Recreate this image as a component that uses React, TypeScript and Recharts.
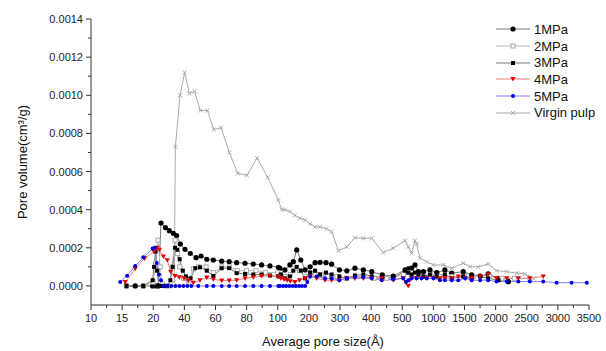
import { Line, LineChart, XAxis, YAxis, Label } from 'recharts'

// x axis of the original plot is piecewise: equally spaced ticks with these labels
const sizeTicks = [10, 15, 20, 40, 60, 80, 100, 200, 300, 400, 500, 1000, 1500, 2000, 2500, 3000, 3500]

const mpa1Size = [15.7, 17.1, 18.4, 19.9, 21.8, 23.3, 25, 27.8, 30.3, 32.9, 35, 37.4, 40.4, 43.8, 47.5, 50.7, 54.4, 58.6, 64, 68.8, 73.6, 79, 84.3, 89.6, 95, 102, 107, 123, 139, 150, 161, 174, 188, 204, 220, 236, 255, 273, 298, 322, 348, 375, 402, 436, 471, 545, 597, 650, 705, 760, 840, 945, 1055, 1185, 1295, 1480, 1615, 1750, 1880, 2045, 2205]
const mpa1Vol = [0, 0, 0, 0, 0, 0, 0.00033, 0.000306, 0.00029, 0.000276, 0.000264, 0.00022, 0.000192, 0.00017, 0.000148, 0.000157, 0.00014, 0.000136, 0.00013, 0.000127, 0.000122, 0.000119, 0.000115, 0.00011, 0.000105, 0.000098, 0.000093, 0.000084, 0.00011, 0.000127, 0.000189, 0.000136, 0.000084, 0.0001, 0.000122, 0.000124, 0.000122, 0.000114, 0.000084, 0.000079, 0.000093, 0.000084, 0.000075, 0.000058, 0.000052, 0.000084, 0.000089, 0.000093, 0.00011, 0.000075, 0.000075, 0.000084, 0.00007, 0.000084, 0.000067, 0.000075, 0.000058, 0.000052, 0.000063, 0.00004, 0.000023]

const mpa2Size = [15.7, 18.4, 20, 21.5, 23, 24.5, 26, 28, 30, 32, 34, 35.5, 37, 39.5, 42.5, 45.7, 49, 54, 58.6, 64, 69, 74, 80, 86, 92, 100, 110, 125, 140, 155, 170, 188, 204, 220, 240, 260, 290, 320, 350, 380, 410, 450, 520, 600, 700, 800, 950, 1100, 1300, 1500, 1700, 1900, 2100, 2300, 2550]
const mpa2Vol = [0, 0, 0.00002, 0.00012, 0.00024, 0.0001, 0.00001, 0, 0, 0.0001, 0.00024, 0.00017, 0.0001, 0.00004, 0.00002, 0.00009, 0.0001, 0.0001, 0.00007, 0.0001, 0.0001, 0.00008, 0.00008, 0.00008, 0.00007, 0.00007, 0.00006, 0.00005, 0.00006, 0.00009, 0.00008, 0.00005, 0.00007, 0.00006, 0.00006, 0.00005, 0.00005, 0.00004, 0.00005, 0.00005, 0.00004, 0.00004, 0.00006, 0.00007, 0.00006, 0.00005, 0.00006, 0.00005, 0.00005, 0.00005, 0.00004, 0.00005, 0.00004, 0.00004, 0.00004]

const mpa3Size = [15.7, 17.1, 18.4, 19.9, 20.5, 21.5, 22.5, 23.5, 25, 26.5, 29, 31, 32.5, 34, 35.5, 37, 39, 41, 44, 47, 50, 54.4, 58.6, 64, 68.8, 73.6, 79, 84.3, 89.6, 95, 102, 110, 123, 139, 150, 161, 174, 188, 204, 220, 236, 255, 273, 298, 322, 348, 375, 402, 436, 471, 545, 597, 650, 705, 760, 840, 945, 1055, 1185, 1295, 1480, 1615, 1750, 1880, 2045, 2205]
const mpa3Vol = [0, 0, 0, 0.00003, 0.0001, 0.00018, 0.00008, 0, 0, 0, 0, 0.00003, 0.0001, 0.0002, 0.00019, 0.00014, 0.00008, 0.00005, 0.00004, 0.000093, 0.000098, 0.00008, 0.000052, 0.000093, 0.000093, 0.000067, 0.000063, 0.00006, 0.00006, 0.000055, 0.00005, 0.00006, 0.00004, 0.00005, 0.00008, 0.0001, 0.00008, 0.00004, 0.00007, 0.00008, 0.00006, 0.00007, 0.00006, 0.00005, 0.00004, 0.000055, 0.00006, 0.00005, 0.000045, 0.00004, 0.00008, 0.00007, 0.00006, 0.00007, 0.00006, 0.00005, 0.00006, 0.00005, 0.00006, 0.00004, 0.00005, 0.00004, 0.00005, 0.00004, 0.00003, 0.00002]

const mpa4Size = [15.5, 17.1, 18.6, 20.5, 22.5, 24, 26.5, 29, 31.2, 34, 36.7, 39.8, 42.5, 45.7, 50, 54.4, 58.6, 64, 68.8, 73.6, 79, 84.3, 89.6, 95, 102, 110, 120, 130, 140, 155, 170, 188, 204, 225, 252, 273, 298, 322, 348, 375, 402, 434, 471, 515, 560, 597, 650, 730, 810, 895, 1000, 1105, 1185, 1295, 1400, 1510, 1615, 1750, 1880, 2015, 2180, 2365, 2550, 2765]
const mpa4Vol = [0.00002, 0.00009, 0.000145, 0.00018, 0.0002, 0.00019, 0.000155, 0.000135, 0.000075, 0.000052, 0.000046, 0.00004, 0.000028, 0.000017, 0.00003, 0.000044, 0.000035, 0.000028, 0.000028, 0.00003, 0.00004, 0.000046, 0.000052, 0.000052, 0.00005, 0.00004, 0.000035, 0.00003, 0.000025, 0.00002, 0.00003, 0.00004, 0.00005, 0.00004, 0.00003, 0.00003, 0.00003, 0.00004, 0.00004, 0.00004, 0.00004, 0.00004, 0.00003, 0.00004, 0.00002, 0, 0.00004, 0.00004, 0.00004, 0.00004, 0.00004, 0.00004, 0.00004, 0.00004, 0.00005, 0.00004, 0.00004, 0.00005, 0.00006, 0.00004, 0.00004, 0.00004, 0.00004, 0.00005]

const mpa5Size = [14.7, 15.8, 17.1, 18.4, 19.9, 21, 22.2, 23.7, 25, 26.5, 29, 31.6, 34.2, 36.8, 39.3, 41.9, 44.5, 48.9, 54.4, 58.6, 64, 68.8, 73.6, 79, 84.3, 89.6, 95, 102, 107, 117, 127, 137, 148, 158, 168, 178, 188, 195, 204, 225, 252, 273, 298, 322, 348, 375, 402, 434, 471, 515, 560, 600, 650, 730, 810, 895, 1000, 1105, 1185, 1295, 1400, 1510, 1615, 1750, 1880, 2015, 2180, 2365, 2550, 2765, 2980, 3220, 3465]
const mpa5Vol = [0.00002, 0.000054, 0.000105, 0.00015, 0.000196, 0.0002, 0.00012, 0.00006, 0.00003, 0, 0, 0, 0, 0, 0, 0, 0, 0, 0, 0, 0, 0, 0, 0, 0, 0, 0, 0, 0, 0, 0, 0, 0, 0, 0, 0, 0, 0.00002, 0.00005, 0.00005, 0.00004, 0.00004, 0.00003, 0.00004, 0.000045, 0.000045, 0.00004, 0.00003, 0.000035, 0.00004, 0.00002, 0.00003, 0.00004, 0.00004, 0.00004, 0.00004, 0.00004, 0.00003, 0.00003, 0.00003, 0.00003, 0.00004, 0.00003, 0.00003, 0.00003, 0.000023, 0.000023, 0.000023, 0.000023, 0.000023, 0.000017, 0.000017, 0.000017]

const virginSize = [33.5, 34.2, 37.2, 40.2, 43.2, 46.6, 50.2, 54.8, 58.8, 63.6, 68.9, 74.3, 80.2, 86.7, 93.5, 102, 113, 123, 139, 155, 171, 188, 204, 220, 236, 257, 273, 295, 322, 348, 375, 402, 439, 471, 545, 597, 650, 705, 730, 785, 893, 1000, 1160, 1295, 1480, 1590, 1720, 1880, 2015, 2180, 2340, 2470, 2605]
const virginVol = [0.00002, 0.00073, 0.001, 0.00112, 0.00101, 0.00102, 0.00092, 0.00092, 0.00082, 0.00083, 0.0007, 0.00059, 0.00058, 0.00067, 0.00057, 0.00045, 0.0004, 0.0004, 0.00039, 0.00037, 0.000355, 0.000345, 0.000325, 0.00031, 0.00031, 0.0003, 0.000285, 0.000185, 0.000205, 0.000253, 0.00025, 0.00025, 0.000175, 0.000198, 0.000238, 0.000206, 0.000171, 0.000238, 0.00022, 0.000145, 0.000127, 0.00011, 0.00011, 0.000093, 0.000119, 0.000101, 0.0001, 0.000115, 0.00008, 0.000075, 0.000067, 0.000063, 0.00004]

const yTicks = Array.from({ length: 15 }, (_, i) => i * 0.0001)
const xTicks = Array.from({ length: 33 }, (_, i) => i * 0.5)

function toPos(size: number): number {
  for (let i = 0; i < sizeTicks.length - 1; i++) {
    if (size <= sizeTicks[i + 1]) return i + (size - sizeTicks[i]) / (sizeTicks[i + 1] - sizeTicks[i])
  }
  return sizeTicks.length - 1
}

function buildSeries(sizes: number[], vols: number[]) {
  return sizes.map((s, i) => ({ pos: toPos(s), vol: vols[i] }))
}

type Marker = 'circle' | 'openSquare' | 'square' | 'triangle' | 'dot' | 'cross'

function MarkerShape({ kind, cx, cy, color }: { kind: Marker; cx: number; cy: number; color: string }) {
  switch (kind) {
    case 'circle':
      return <circle cx={cx} cy={cy} r={2.6} fill={color} />
    case 'dot':
      return <circle cx={cx} cy={cy} r={2} fill={color} />
    case 'square':
      return <rect x={cx - 2} y={cy - 2} width={4} height={4} fill={color} />
    case 'openSquare':
      return <rect x={cx - 2} y={cy - 2} width={4} height={4} fill="#fff" stroke={color} strokeWidth={1} />
    case 'triangle':
      return <path d={`M${cx - 2.6},${cy - 2} L${cx + 2.6},${cy - 2} L${cx},${cy + 2.6} Z`} fill={color} />
    default:
      return <path d={`M${cx - 2},${cy - 2} L${cx + 2},${cy + 2} M${cx + 2},${cy - 2} L${cx - 2},${cy + 2}`} stroke={color} strokeWidth={1} />
  }
}

const series = [
  { name: '1MPa', data: buildSeries(mpa1Size, mpa1Vol), stroke: '#777', marker: 'circle' as Marker, markerColor: '#000' },
  { name: '2MPa', data: buildSeries(mpa2Size, mpa2Vol), stroke: '#bbb', marker: 'openSquare' as Marker, markerColor: '#aaa' },
  { name: '3MPa', data: buildSeries(mpa3Size, mpa3Vol), stroke: '#777', marker: 'square' as Marker, markerColor: '#000' },
  { name: '4MPa', data: buildSeries(mpa4Size, mpa4Vol), stroke: '#f08080', marker: 'triangle' as Marker, markerColor: '#e00000' },
  { name: '5MPa', data: buildSeries(mpa5Size, mpa5Vol), stroke: '#8080ff', marker: 'dot' as Marker, markerColor: '#0000e0' },
  { name: 'Virgin pulp', data: buildSeries(virginSize, virginVol), stroke: '#aaa', marker: 'cross' as Marker, markerColor: '#aaa' },
]

const FONT = 'Arial, "Liberation Sans", sans-serif'

function XTick({ x, y, payload }: any) {
  const major = Number.isInteger(payload.value)
  return (
    <g>
      <line x1={x} x2={x} y1={y} y2={y + (major ? 5 : 3)} stroke="#333" />
      {major && (
        <text x={x} y={y + 17} textAnchor="middle" fontSize={11} fontFamily={FONT} fill="#222">
          {sizeTicks[payload.value]}
        </text>
      )}
    </g>
  )
}

function YTick({ x, y, payload }: any) {
  const step = Math.round(payload.value / 0.0001)
  const major = step % 2 === 0
  return (
    <g>
      <line x1={x - (major ? 5 : 3)} x2={x} y1={y} y2={y} stroke="#333" />
      {major && (
        <text x={x - 8} y={y + 4} textAnchor="end" fontSize={11} fontFamily={FONT} fill="#222">
          {(step * 0.0001).toFixed(4)}
        </text>
      )}
    </g>
  )
}

function ChartLegend() {
  return (
    <div style={{ position: 'absolute', left: 496, top: 21, fontFamily: FONT, fontSize: 13, color: '#111' }}>
      {series.map((s) => (
        <div key={s.name} style={{ display: 'flex', alignItems: 'center', height: 16.7 }}>
          <svg width={38} height={12} style={{ display: 'block' }}>
            <line x1={0} x2={34} y1={6} y2={6} stroke={s.stroke} />
            <MarkerShape kind={s.marker} cx={17} cy={6} color={s.markerColor} />
          </svg>
          <span>{s.name}</span>
        </div>
      ))}
    </div>
  )
}

export default function App() {
  return (
    <div style={{ position: 'absolute', left: 0, top: 0, width: 606, height: 351, background: '#fff' }}>
      <LineChart width={606} height={351} margin={{ top: 19, right: 17, left: 0, bottom: 0 }}>
        <XAxis
          type="number"
          dataKey="pos"
          domain={[0, 16]}
          ticks={xTicks}
          interval={0}
          height={46}
          tickSize={0}
          tickMargin={0}
          tickLine={false}
          tick={<XTick />}
          axisLine={{ stroke: '#333' }}
          allowDataOverflow
        >
          <Label value="Average pore size(Å)" position="insideBottom" offset={5} dx={-17} style={{ fontFamily: FONT, fontSize: 13, fill: '#111' }} />
        </XAxis>
        <YAxis
          type="number"
          dataKey="vol"
          domain={[-0.0001, 0.0014]}
          ticks={yTicks}
          interval={0}
          width={91}
          tickSize={0}
          tickMargin={0}
          tickLine={false}
          tick={<YTick />}
          axisLine={{ stroke: '#333' }}
          allowDataOverflow
        >
          <Label value="Pore volume(cm³/g)" angle={-90} position="insideLeft" offset={22} style={{ fontFamily: FONT, fontSize: 13, fill: '#111', textAnchor: 'middle' }} />
        </YAxis>
        {series.map((s) => (
          <Line
            key={s.name}
            name={s.name}
            data={s.data}
            dataKey="vol"
            type="linear"
            stroke={s.stroke}
            strokeWidth={1}
            isAnimationActive={false}
            dot={(p: any) => <MarkerShape key={p.index} kind={s.marker} cx={p.cx} cy={p.cy} color={s.markerColor} />}
            activeDot={false}
          />
        ))}
      </LineChart>
      <ChartLegend />
    </div>
  )
}
